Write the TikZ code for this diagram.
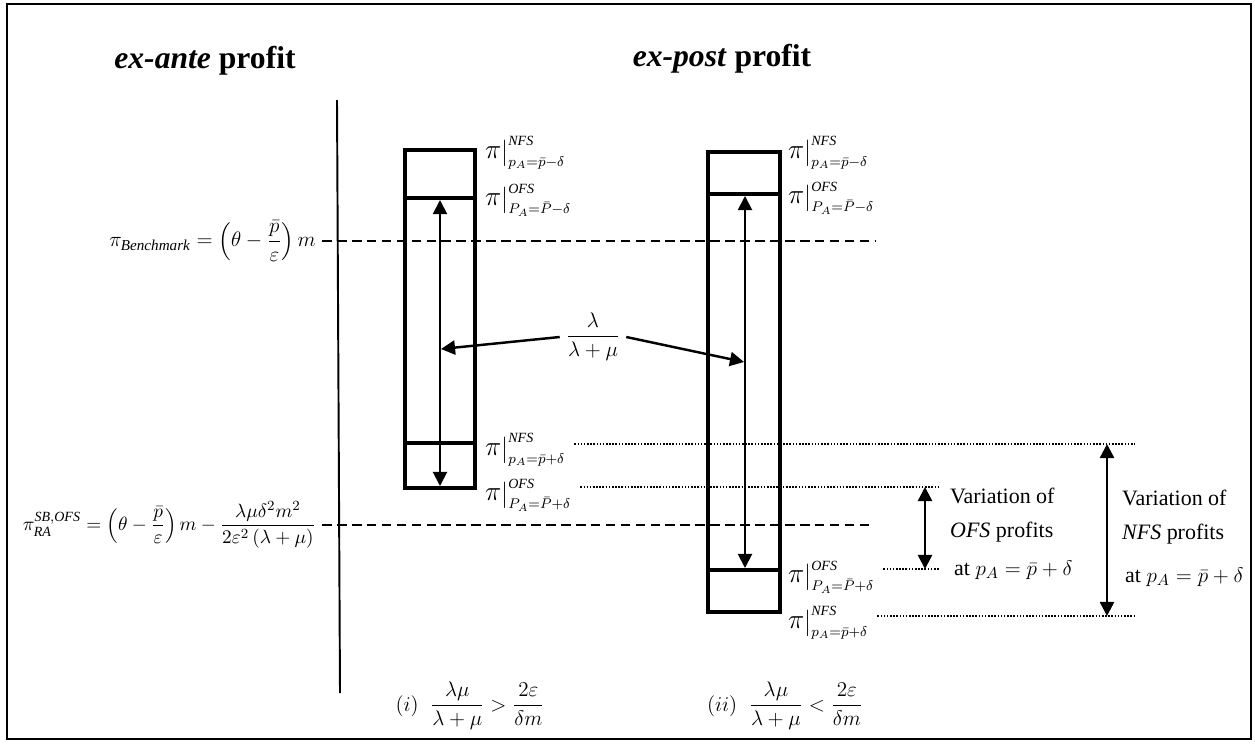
\documentclass[tikz,border=0pt]{standalone}
\usepackage{amsmath}
\usepackage{fontspec}
\setmainfont{Liberation Serif}
\usetikzlibrary{arrows.meta}

\begin{document}
\begin{tikzpicture}[x=0.02cm, y=-0.02cm, >={Triangle[length=8pt,width=8pt]},
    font=\fontsize{12.5}{15}\selectfont,
    title/.style={font=\fontsize{18}{22}\selectfont\bfseries},
    eq/.style={font=\fontsize{12.3}{15}\selectfont},
    val/.style={font=\fontsize{12}{14}\selectfont, anchor=west, inner sep=1pt},
    box/.style={line width=2.4pt},
    level/.style={line width=1pt, dash pattern=on 5.5pt off 3pt},
    dotline/.style={line width=0.8pt, dash pattern=on 0.9pt off 0.9pt},
    inner/.style={line width=1.1pt},
    spanarrow/.style={line width=1.4pt}]
    \useasboundingbox (0,0) rectangle (1255,744);
    \draw[line width=1.1pt] (7,4) rectangle (1251,739);

    % titles
    \node[title, anchor=base] (exante) at (205,68) {\textit{ex-ante} profit};
    \node[title, anchor=base] (expost) at (722,66) {\textit{ex-post} profit};

    % separator
    \coordinate (septop) at (337,100);
    \coordinate (sepbot) at (340,693);
    \draw[line width=1.1pt] (septop) -- (sepbot);

    % ex-ante levels
    \node[eq, anchor=east] (bench) at (322,241)
        {$\pi_{\mathit{Benchmark}}=\left(\theta-\dfrac{\bar p}{\varepsilon}\right)m$};
    \coordinate (benchend) at (875,241);
    \draw[level] (bench.east) -- (benchend);
    \node[eq, anchor=east, font=\fontsize{11.4}{14}\selectfont] (ra) at (322,525)
        {$\pi^{\mathit{SB,OFS}}_{\mathit{RA}}=\left(\theta-\dfrac{\bar p}{\varepsilon}\right)m-\dfrac{\lambda\mu\delta^2m^2}{2\varepsilon^2\left(\lambda+\mu\right)}$};
    \coordinate (raend) at (870,525);
    \draw[level] (ra.east) -- (raend);

    % case (i)
    \draw[box] (405,150) rectangle (475,488);
    \draw[box] (405,198) -- (475,198);
    \draw[box] (405,443) -- (475,443);
    \coordinate (Ltop) at (440,200);
    \coordinate (Lbot) at (440,486);
    \coordinate (Lmid) at (441,349);
    \draw[<->, inner] (Ltop) -- (Lbot);
    \node[val] (LnfsA) at (483,153) {$\scalebox{1.3}{$\pi$}\big|^{\mathit{NFS}}_{p_A=\bar p-\delta}$};
    \node[val] (LofsA) at (483,200) {$\scalebox{1.3}{$\pi$}\big|^{\mathit{OFS}}_{P_A=\bar P-\delta}$};
    \node[val] (LnfsB) at (483,450) {$\scalebox{1.3}{$\pi$}\big|^{\mathit{NFS}}_{p_A=\bar p+\delta}$};
    \node[val] (LofsB) at (483,495) {$\scalebox{1.3}{$\pi$}\big|^{\mathit{OFS}}_{P_A=\bar P+\delta}$};

    % case (ii)
    \draw[box] (708,152) rectangle (780,612);
    \draw[box] (708,194) -- (780,194);
    \draw[box] (708,570) -- (780,570);
    \coordinate (Rtop) at (745,196);
    \coordinate (Rbot) at (745,568);
    \coordinate (Rmid) at (744,362);
    \draw[<->, inner] (Rtop) -- (Rbot);
    \node[val] (RnfsA) at (786,153) {$\scalebox{1.3}{$\pi$}\big|^{\mathit{NFS}}_{p_A=\bar p-\delta}$};
    \node[val] (RofsA) at (786,198) {$\scalebox{1.3}{$\pi$}\big|^{\mathit{OFS}}_{P_A=\bar P-\delta}$};
    \node[val] (RofsB) at (786,577) {$\scalebox{1.3}{$\pi$}\big|^{\mathit{OFS}}_{P_A=\bar P+\delta}$};
    \node[val] (RnfsB) at (786,623) {$\scalebox{1.3}{$\pi$}\big|^{\mathit{NFS}}_{p_A=\bar p+\delta}$};

    % probability share
    \node[eq] (share) at (593,337) {$\dfrac{\lambda}{\lambda+\mu}$};
    \draw[->, spanarrow] (share.west) -- (Lmid);
    \draw[->, spanarrow] (share.east) -- (Rmid);

    % variations at p_A = p + delta
    \coordinate (nfsup) at (1135,444);
    \coordinate (ofsup) at (940,487);
    \coordinate (ofsdn) at (940,569);
    \coordinate (nfsdn) at (1135,616);
    \draw[dotline] ([xshift=4pt]LnfsB.east |- nfsup) -- (nfsup);
    \draw[dotline] ([xshift=4pt]LofsB.east |- ofsup) -- (ofsup);
    \draw[dotline] ([xshift=4pt]RofsB.east |- ofsdn) -- (ofsdn);
    \draw[dotline] ([xshift=4pt]RnfsB.east |- nfsdn) -- (nfsdn);
    \coordinate (ofsarrA) at (925,487);
    \coordinate (ofsarrB) at (925,569);
    \coordinate (nfsarrA) at (1107,444);
    \coordinate (nfsarrB) at (1107,616);
    \draw[<->, spanarrow] (ofsarrA) -- (ofsarrB);
    \draw[<->, spanarrow] (nfsarrA) -- (nfsarrB);
    \node[anchor=west] (ofsvar) at (944,496) {Variation of};
    \node[anchor=west] (ofsprof) at (944,532) {\textit{OFS} profits};
    \node[anchor=west] (ofsat) at (948,570) {at $p_A=\bar p+\delta$};
    \node[anchor=west] (nfsvar) at (1116,498) {Variation of};
    \node[anchor=west] (nfsprof) at (1116,534) {\textit{NFS} profits};
    \node[anchor=west] (nfsat) at (1119,577) {at $p_A=\bar p+\delta$};

    % conditions
    \node[eq] (condi) at (470,706)
        {$(i)\;\;\dfrac{\lambda\mu}{\lambda+\mu}>\dfrac{2\varepsilon}{\delta m}$};
    \node[eq] (condii) at (785,706)
        {$(ii)\;\;\dfrac{\lambda\mu}{\lambda+\mu}<\dfrac{2\varepsilon}{\delta m}$};
\end{tikzpicture}
\end{document}
